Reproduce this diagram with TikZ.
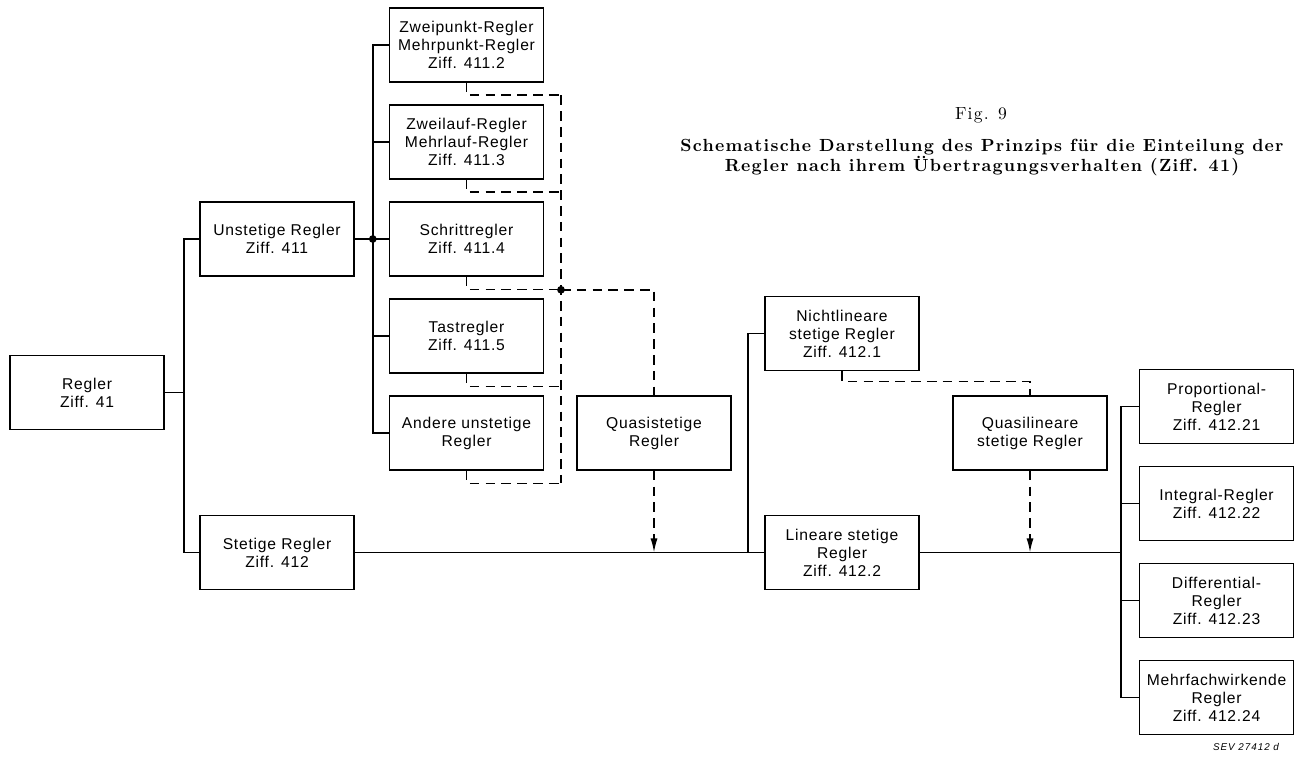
\documentclass[tikz,border=0pt]{standalone}
\usepackage{fontspec}
\setsansfont{Liberation Sans}
\newfontfamily\titelfamilie{lmroman10-regular}[Extension=.otf,BoldFont=lmroman10-bold,LetterSpace=7]
\usetikzlibrary{positioning,arrows.meta}

\newcommand\kastenschrift{\fontsize{8.9}{10.2}\sffamily\addfontfeature{LetterSpace=5}}
\newcommand\titelschrift{\fontsize{10}{11.9}\titelfamilie\bfseries}

\begin{document}
\begin{tikzpicture}[on grid,node distance=1.94cm,line width=0.9pt,
  kasten/.style={rectangle,draw,minimum width=3.08cm,minimum height=1.48cm,align=center,inner sep=1pt,font=\kastenschrift},
  strich/.style={dash pattern=on 5.5pt off 3.5pt},
  pfeil/.style={strich,-{Latex[length=8pt,width=4pt]}}]
	\useasboundingbox (0,0) rectangle (25.96,-15.16);
	% Titel
	\node (fig) at (19.62,-2.30) {\fontsize{10}{11}\titelfamilie Fig. 9};
	\node[align=center,font=\titelschrift] (titel) at (19.64,-3.15) {Schematische Darstellung des Prinzips für die Einteilung der\\Regler nach ihrem Übertragungsverhalten (Ziff. 41)};
	% Kaesten
	\node[kasten] (regler) at (1.74,-7.85) {Regler\\Ziff. 41};
	\node[kasten] (unstetig) [above right=3.07cm and 3.8cm of regler] {Unstetige Regler\\Ziff. 411};
	\node[kasten] (stetig) [below right=3.2cm and 3.8cm of regler] {Stetige Regler\\Ziff. 412};
	\node[kasten] (zweipunkt) [above right=3.88cm and 3.79cm of unstetig] {Zweipunkt-Regler\\Mehrpunkt-Regler\\Ziff. 411.2};
	\node[kasten] (zweilauf) [below=of zweipunkt] {Zweilauf-Regler\\Mehrlauf-Regler\\Ziff. 411.3};
	\node[kasten] (schritt) [below=of zweilauf] {Schrittregler\\Ziff. 411.4};
	\node[kasten] (tast) [below=of schritt] {Tastregler\\Ziff. 411.5};
	\node[kasten] (andere) [below=of tast] {Andere unstetige\\Regler};
	\node[kasten] (quasistetig) [right=3.75cm of andere] {Quasistetige\\Regler};
	\node[kasten] (linear) [right=11.3cm of stetig] {Lineare stetige\\Regler\\Ziff. 412.2};
	\node[kasten] (nichtlinear) [above=4.38cm of linear] {Nichtlineare\\stetige Regler\\Ziff. 412.1};
	\node[kasten] (quasilinear) [right=7.52cm of quasistetig] {Quasilineare\\stetige Regler};
	\node[kasten] (proportional) [above right=2.92cm and 7.49cm of linear] {Proportional-\\Regler\\Ziff. 412.21};
	\node[kasten] (integral) [below=of proportional] {Integral-Regler\\Ziff. 412.22};
	\node[kasten] (differential) [below=of integral] {Differential-\\Regler\\Ziff. 412.23};
	\node[kasten] (mehrfach) [below=of differential] {Mehrfachwirkende\\Regler\\Ziff. 412.24};
	\node (sev) at (24.92,-14.94) {\fontsize{5.6}{6}\sffamily\itshape\addfontfeature{LetterSpace=10}SEV 27412 d};
	% Verzweigungen
	\coordinate[right=0.38cm of regler.east] (gabel1);
	\coordinate[right=0.36cm of unstetig.east] (gabel2);
	\coordinate[left=0.32cm of linear.west] (gabel3);
	\coordinate[left=0.35cm of proportional.west] (gabel4);
	\coordinate[below right=0.26cm and 1.89cm of schritt.south] (knoten);
	% Linien
	\draw (regler) -- (gabel1);
	\draw (unstetig.west) -| (gabel1) |- (stetig.west);
	\draw (unstetig) -- (schritt);
	\draw (zweipunkt.west) -| (gabel2) |- (andere.west);
	\foreach \n in {zweilauf,tast}
		\draw (\n.west) -- (\n.west -| gabel2);
	\fill (gabel2) circle (2.2pt);
	\foreach \n in {zweipunkt,zweilauf,schritt,tast,andere}
		\draw[strich] (\n.south) -- ++(0,-0.25) coordinate (\n-u) -- (\n-u -| knoten);
	\draw[strich] (zweipunkt-u -| knoten) -- (andere-u -| knoten);
	\fill (knoten) circle (2.2pt);
	\draw[strich] (knoten) -| (quasistetig.north);
	\draw[pfeil] (quasistetig.south) -- (quasistetig.south |- stetig.east);
	\draw (stetig) -- (linear);
	\draw (nichtlinear.west) -| (gabel3);
	\draw[strich] (nichtlinear.south) -- ++(0,-0.2) -| (quasilinear.north);
	\draw[pfeil] (quasilinear.south) -- (quasilinear.south |- linear.east);
	\draw (linear.east) -- (linear.east -| gabel4);
	\draw (proportional) -- (gabel4) |- (mehrfach.west);
	\foreach \n in {integral,differential}
		\draw (\n.west) -- (\n.west -| gabel4);
\end{tikzpicture}
\end{document}
